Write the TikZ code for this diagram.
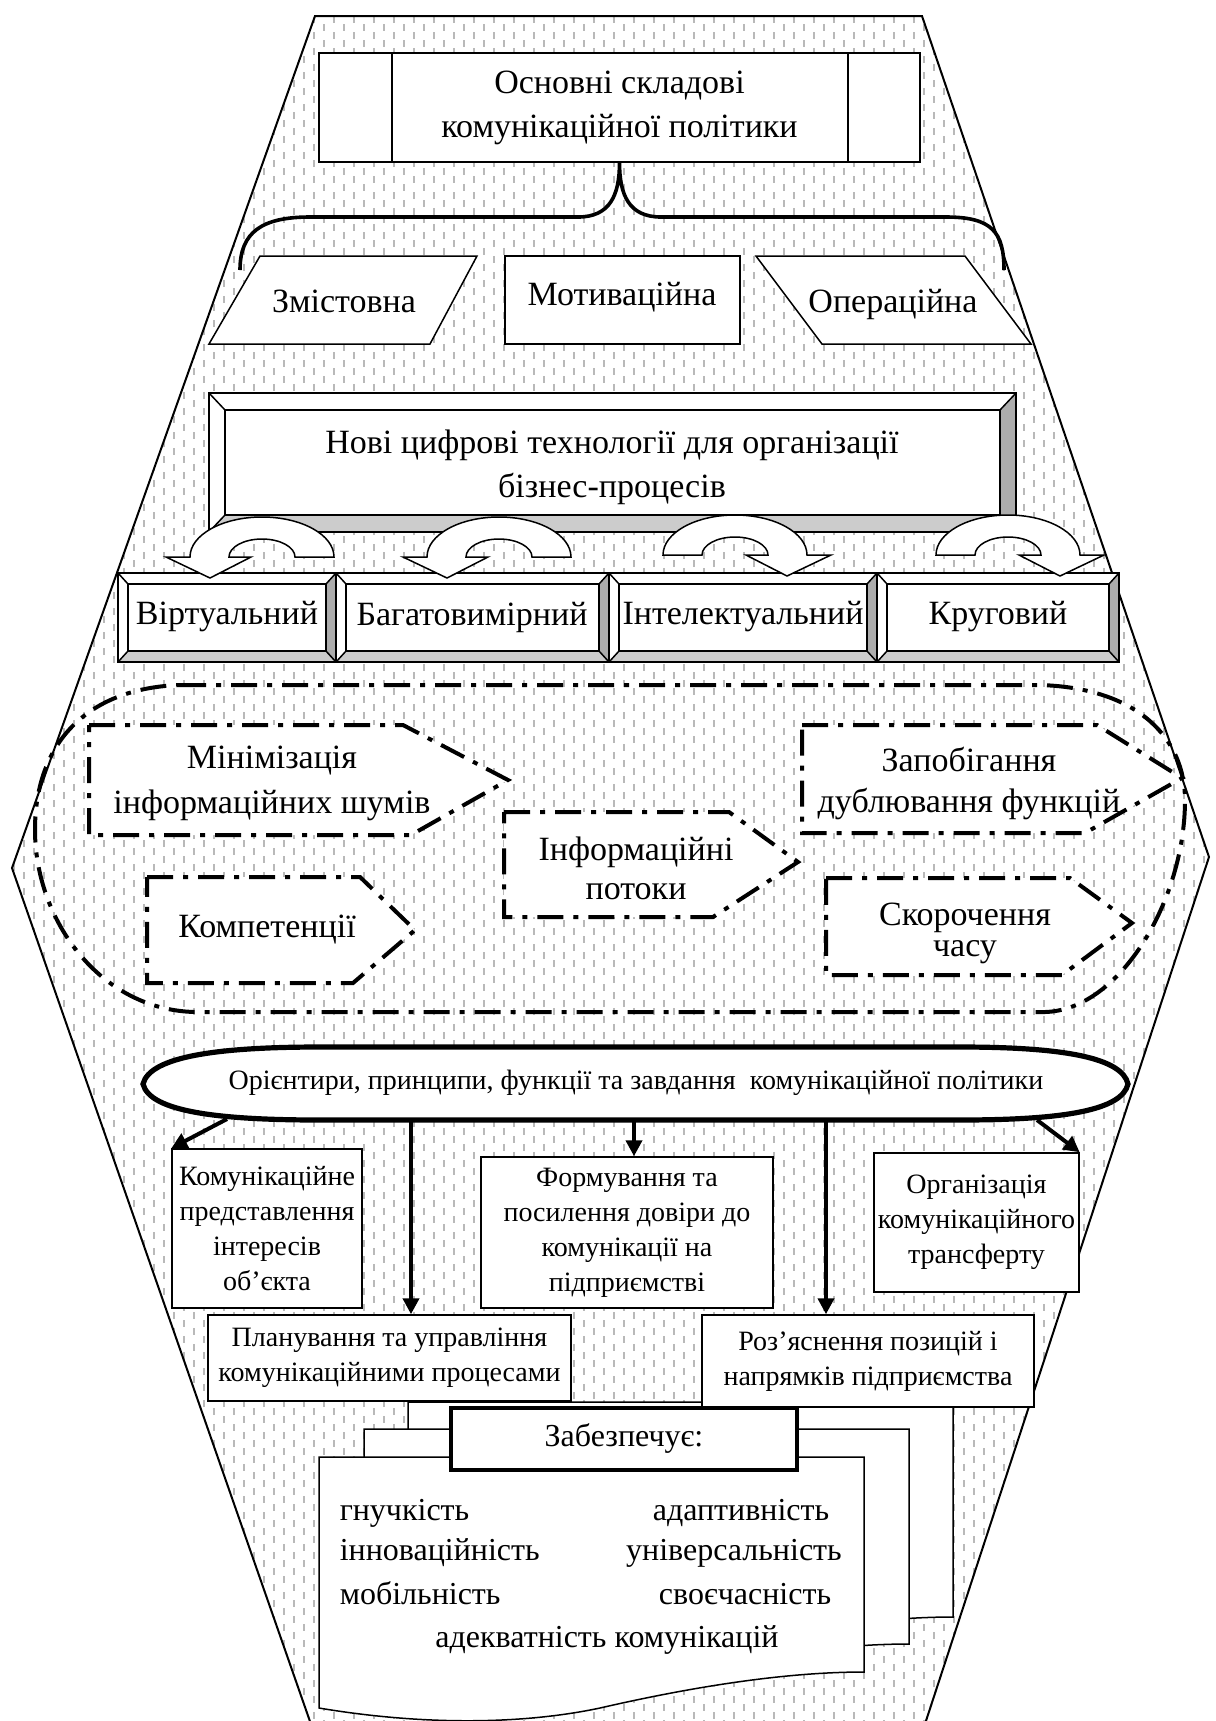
\documentclass[tikz,border=0pt]{standalone}
\usepackage{fontspec}
\setmainfont{Liberation Serif}
\usetikzlibrary{arrows.meta,calc}

% bevelled box: x1,y1,x2,y2, side bevel, top/bottom bevel
\newcommand{\bevelbox}[6]{%
  \fill[white] (#1,#2) rectangle (#3,#4);
  \fill[gray!40] (#1,#4) -- (#1+#5,#4-#6) -- (#3-#5,#4-#6) -- (#3,#4) -- cycle;
  \fill[gray!65] (#3,#2) -- (#3-#5,#2+#6) -- (#3-#5,#4-#6) -- (#3,#4) -- cycle;
  \draw (#1,#2) rectangle (#3,#4) (#1+#5,#2+#6) rectangle (#3-#5,#4-#6);
  \draw (#1,#2) -- (#1+#5,#2+#6) (#3,#2) -- (#3-#5,#2+#6)
        (#1,#4) -- (#1+#5,#4-#6) (#3,#4) -- (#3-#5,#4-#6);}

% curved block arrow: centre x, centre y, 1 = turns left, -1 = turns right
\newcommand{\turnarrow}[3]{%
  \begin{scope}[shift={(#1,#2)},xscale=#3]
    \filldraw[fill=white] (72,0) arc[start angle=0,end angle=-180,x radius=72,y radius=40]
      -- (-96,0) -- (-52,21) -- (-11,0) -- (-33,0)
      arc[start angle=-180,end angle=0,x radius=33,y radius=18] -- cycle;
  \end{scope}}

% stacked sheet with a wavy foot
\newcommand{\docpage}[2]{%
  \filldraw[fill=white,shift={(#1,#2)}] (0,0) -- (545,0) -- (545,215)
    .. controls (471,215) and (381,228) .. (281,251)
    .. controls (201,268) and (101,268) .. (0,251) -- cycle;}

\begin{document}
\begin{tikzpicture}[x=0.5pt,y=-0.5pt,line width=0.75pt,
  hatch/.style={gray!55,line width=1.1pt,dash pattern=on 3.5pt off 4.5pt},
  big/.style={font=\fontsize{17}{22}\selectfont,align=center,inner sep=0pt},
  small/.style={font=\fontsize{14}{17.5}\selectfont,align=center,inner sep=0pt},
  list/.style={font=\fontsize{16}{20}\selectfont,inner sep=0pt,text height=11pt,text depth=3.5pt},
  box/.style={draw,fill=white,inner sep=0pt,align=center,font=\fontsize{14}{17.5}\selectfont},
  dd/.style={line width=2pt,dash pattern=on 13pt off 5pt on 2.5pt off 5pt},
  arr/.style={line width=2pt,-{Triangle[length=8pt,width=8pt]}}]
\useasboundingbox (0,0) rectangle (1216,1721);
\fill[white] (0,0) rectangle (1216,1721);

\begin{scope}
  \clip (313,1730) -- (12,868) -- (315,16) -- (922,16) -- (1209,857) -- (923,1730) -- cycle;
  \foreach \x in {14,34,...,1214} \draw[hatch] (\x,16) -- (\x,1730);
  \foreach \x in {24,44,...,1204} \draw[hatch,dash phase=4pt] (\x,16) -- (\x,1730);
\end{scope}
\draw[line width=1pt] (313,1730) -- (12,868) -- (315,16) -- (922,16) -- (1209,857) -- (923,1730);

\node[draw,fill=white,minimum width=300.5pt,minimum height=54.5pt,big] (osn) at (619.5,107.5) {Основні складові\\комунікаційної політики};
\draw (392,53) -- (392,162) (848,53) -- (848,162);
\draw[line width=1.8pt] (240,270) .. controls (240,232) and (262,217) .. (310,217) -- (578,217)
  .. controls (610,217) and (619.5,195) .. (osn.south)
  .. controls (619.5,195) and (629,217) .. (661,217) -- (946,217)
  .. controls (992,217) and (1004,232) .. (1004,270);

\draw[fill=white] (260,256) -- (477,256) -- (430,344) -- (209,344) -- cycle;
\draw[fill=white] (505,256) rectangle (740,344);
\draw[fill=white] (756,256) -- (965,256) -- (1031,344) -- (822,344) -- cycle;
\node[big] (zmist) at (344,301) {Змістовна};
\node[big] (motyv) at (622,297) {Мотиваційна};
\node[big] (oper) at (893,304) {Операційна};

\bevelbox{209}{393}{1016}{532}{16}{17}
\node[big] (tech) at (612,467) {Нові цифрові технології для організації\\бізнес-процесів};

\bevelbox{118}{573}{336}{662}{10}{11}
\bevelbox{336}{573}{609}{662}{10}{11}
\bevelbox{609}{573}{877}{662}{10}{11}
\bevelbox{877}{573}{1119}{662}{10}{11}
\node[big] (virt) at (227,617) {Віртуальний};
\node[big] (bagat) at (472,617) {Багатовимірний};
\node[big] (intel) at (743,617) {Інтелектуальний};
\node[big] (krug) at (998,617) {Круговий};

\turnarrow{262}{557}{1}
\turnarrow{499}{557}{1}
\turnarrow{735}{555}{-1}
\turnarrow{1008}{555}{-1}

\draw[dd] (180,685) -- (1040,685) .. controls (1140,688) and (1185,740) .. (1185,800)
  .. controls (1185,900) and (1120,1010) .. (1045,1012) -- (195,1012)
  .. controls (100,1010) and (35,920) .. (35,830) .. controls (35,740) and (90,688) .. (180,685) -- cycle;
\draw[dd,fill=white] (89,725) -- (403,725) -- (508,780) -- (411,835) -- (89,835) -- cycle;
\draw[dd,fill=white] (147,877) -- (360,877) -- (415,930) -- (353,983) -- (147,983) -- cycle;
\draw[dd,fill=white] (504,812) -- (729,812) -- (798,862) -- (713,917) -- (504,917) -- cycle;
\draw[dd,fill=white] (802,725) -- (1097,725) -- (1182,778) -- (1085,833) -- (802,833) -- cycle;
\draw[dd,fill=white] (826,878) -- (1070,878) -- (1132,923) -- (1062,975) -- (826,975) -- cycle;
\node[big,font=\fontsize{17}{22.5}\selectfont] (minim) at (272,783) {Мінімізація\\інформаційних шумів};
\node[big] (kompet) at (267,930) {Компетенції};
\node[big,font=\fontsize{17}{19.5}\selectfont] (potoky) at (636,868) {Інформаційні\\потоки};
\node[big,font=\fontsize{17}{20.5}\selectfont] (zapob) at (969,783) {Запобігання\\дублювання функцій};
\node[big,font=\fontsize{17}{15.5}\selectfont] (skor) at (965,933) {Скорочення\\часу};

\docpage{408}{1402}
\docpage{364}{1429}
\docpage{319}{1457}

\draw[line width=2.6pt,fill=white] (143,1084) .. controls (150,1056) and (220,1047) .. (320,1047) -- (960,1047)
  .. controls (1065,1047) and (1122,1058) .. (1128,1084) .. controls (1122,1110) and (1065,1120) .. (960,1120)
  -- (320,1120) .. controls (220,1120) and (150,1112) .. (143,1084) -- cycle;
\node[small] (orient) at (636,1083) {Орієнтири, принципи, функції та завдання \ комунікаційної політики};
\coordinate (o1) at (227,1119);
\coordinate (o2) at (411,1121);
\coordinate (o3) at (634,1121);
\coordinate (o4) at (826,1121);
\coordinate (o5) at (1037,1120);

\node[box,minimum width=95pt,minimum height=79.5pt] (kom) at (267,1228.5) {Комунікаційне\\представлення\\інтересів\\об'єкта};
\node[box,minimum width=146pt,minimum height=75.5pt] (form) at (627,1232.5) {Формування та\\посилення довіри до\\комунікації на\\підприємстві};
\node[box,minimum width=102.5pt,minimum height=69.5pt] (org) at (976.5,1222.5) {Організація\\комунікаційного\\трансферту};
\node[box,minimum width=181.5pt,minimum height=43pt] (plan) at (389.5,1358) {Планування та управління\\комунікаційними процесами};
\node[box,minimum width=166pt,minimum height=46pt] (roz) at (868,1361) {Роз'яснення позицій і\\напрямків підприємства};

\draw[arr] (o1) -- (kom.north west);
\draw[arr] (o2) -- (o2 |- plan.north);
\draw[arr] (o3) -- (o3 |- form.north);
\draw[arr] (o4) -- (o4 |- roz.north);
\draw[arr] (o5) -- (org.north east);

\node[draw,fill=white,line width=2.2pt,minimum width=173pt,minimum height=31pt,list] (zab) at (624,1439) {Забезпечує:};
\node[list,anchor=west] (g1) at (339,1513) {гнучкість};
\node[list] (g2) at (741,1513) {адаптивність};
\node[list,anchor=west] (g3) at (339,1553) {інноваційність};
\node[list] (g4) at (734,1553) {універсальність};
\node[list,anchor=west] (g5) at (339,1597) {мобільність};
\node[list] (g6) at (745,1597) {своєчасність};
\node[list] (g7) at (607,1640) {адекватність комунікацій};
\end{tikzpicture}
\end{document}
